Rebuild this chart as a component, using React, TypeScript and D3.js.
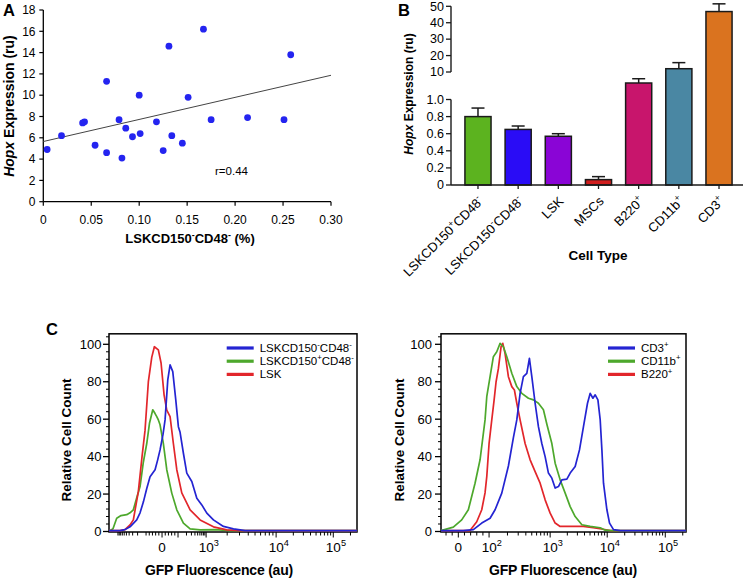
import React from "react";
import * as d3 from "d3";

const FONT = "'Liberation Sans', Arial, Helvetica, sans-serif";

// ---------- Panel A : correlation ----------
const corrX = [0.004, 0.019, 0.041, 0.043, 0.054, 0.066, 0.066, 0.079, 0.082, 0.086, 0.093, 0.100, 0.101, 0.118, 0.125, 0.131, 0.134, 0.145, 0.151, 0.167, 0.175, 0.213, 0.251, 0.258];
const corrY = [4.9, 6.2, 7.4, 7.5, 5.3, 11.3, 4.6, 7.7, 4.1, 6.9, 6.1, 10.0, 6.4, 7.5, 4.8, 14.6, 6.2, 5.5, 9.8, 16.2, 7.7, 7.9, 7.7, 13.8];
const fitX = [0, 0.3];
const fitY = [5.65, 11.87];
const aXTicks = [0, 0.05, 0.1, 0.15, 0.2, 0.25, 0.3];
const aXTickLabels = ["0", "0.05", "0.10", "0.15", "0.20", "0.25", "0.30"];
const aYTicks = [0, 2, 4, 6, 8, 10, 12, 14, 16, 18];
const corrLabel = "r=0.44";

// ---------- Panel B : bars ----------
const cellTypes = ["LSKCD150^+CD48^-", "LSKCD150^-CD48^-", "LSK", "MSCs", "B220^+", "CD11b^+", "CD3^+"];
const hopxMean = [0.80, 0.65, 0.57, 0.063, 6.4, 12.0, 46.8];
const hopxSem = [0.10, 0.04, 0.03, 0.035, 1.4, 3.7, 4.7];
const barColors = ["#5cb31f", "#2a0cf6", "#8a05d6", "#d01d1d", "#c8156c", "#4a87a3", "#da731f"];
const bLowTicks = [0, 0.2, 0.4, 0.6, 0.8, 1.0];
const bLowTickLabels = ["0", "0.2", "0.4", "0.6", "0.8", "1.0"];
const bHighTicks = [10, 20, 30, 40, 50];

// ---------- Panel C : histograms (x in display channels 0-1024, y in % of max) ----------
const lskNegCurve: [number, number][] = [[0, 0], [24.8, 0], [45.5, 0.3], [66.1, 1], [86.8, 2.5], [114.5, 6.2], [128.2, 10], [141.8, 15.7], [155.9, 23], [169.5, 29.3], [190.2, 33], [200.5, 38], [210.8, 43.6], [223.2, 52], [231.5, 59.6], [242.7, 81], [252.2, 89], [263.3, 85.4], [275.7, 70.3], [286.5, 56], [293.5, 53], [307.2, 41.8], [321.2, 31.2], [341.9, 26.7], [362.6, 17.8], [383.2, 14.2], [403.9, 9.8], [431.2, 6.2], [472.5, 2.7], [513.9, 1.4], [562.2, 0.5], [624.2, 0], [1024, 0]];
const lskPosCurve: [number, number][] = [[0, 0], [4.1, 0], [16.5, 1.5], [31.8, 7.1], [49.6, 8.5], [73.2, 9], [86.8, 10], [100.5, 11.6], [114.5, 18], [128.2, 24], [141.8, 37], [155.9, 47], [167.4, 58], [180.7, 65], [190.2, 63], [197.2, 61.4], [203.8, 59.6], [210.8, 57], [224.5, 47], [238.5, 33], [259.2, 20.5], [279.9, 11.6], [307.2, 4.5], [334.9, 1.4], [376.2, 0.9], [438.2, 1.0], [500.2, 0.5], [541.6, 0], [1024, 0]];
const lskCurve: [number, number][] = [[0, 0], [45.5, 0], [66.1, 1], [86.8, 3.5], [100.5, 6.2], [121.1, 21.3], [136.4, 40], [148.8, 54], [162.5, 80], [176.5, 93], [187.3, 98.7], [203.8, 97], [215, 90], [227.4, 73], [238.5, 64.8], [252.2, 61.4], [265.8, 47], [279.9, 33], [300.5, 20.6], [334.9, 11.6], [376.2, 6.2], [431.2, 2.5], [486.6, 0.9], [541.6, 0.3], [583, 0], [1024, 0]];

const cd3Curve: [number, number][] = [[0, 0], [58.6, 0], [93.3, 0.5], [135.2, 1], [170.3, 4.5], [205.1, 7.1], [226, 11.6], [254, 20.5], [281.7, 35], [302.6, 50.2], [316.8, 59.6], [330.6, 73.8], [344.4, 82.7], [358.7, 84.5], [369.5, 92.5], [379.6, 82.7], [393.4, 68.5], [407.2, 56], [421.4, 47], [435.2, 40], [449, 31.2], [463.3, 28.5], [477.1, 23.2], [490.9, 24], [505.1, 27.6], [526, 28], [539.9, 31.2], [560.8, 34.7], [578.8, 43.6], [595.5, 56], [612.3, 68.5], [623.6, 73.8], [634.9, 71.2], [644.5, 73], [655.8, 70.3], [665.4, 59.6], [672.5, 43.6], [679.2, 25.8], [693.4, 11.6], [704.4, 4.5], [721.1, 1], [749.1, 0], [1024, 0]];
const cd11bCurve: [number, number][] = [[0, 0.5], [51.5, 2.3], [86.6, 6.2], [114.3, 11.6], [142.3, 25.8], [163.2, 38.3], [184.1, 59.6], [191.3, 72], [205.1, 82.7], [218.9, 93.4], [233.1, 96], [246.9, 100.5], [260.7, 98.7], [275, 93.4], [295.9, 84.5], [316.8, 77.4], [337.7, 73.8], [365.4, 71.2], [386.3, 70.3], [407.2, 68.5], [428.1, 65], [443, 57], [463.3, 47], [477.1, 36.5], [498, 27.6], [519, 20.5], [539.9, 13.3], [560.8, 8], [588.8, 3.6], [623.6, 2.7], [665.4, 2], [686.3, 0.7], [715.6, 0], [1024, 0]];
const b220Curve: [number, number][] = [[0, 0], [92.1, 0], [121.4, 0.5], [149.4, 5.2], [170.3, 11.6], [184.1, 20.6], [191.3, 29.3], [200.9, 47], [212.2, 59.6], [221.8, 70], [230.2, 80], [239.8, 87], [251.1, 98.7], [258.2, 100.5], [267.8, 95], [281.7, 82.7], [295.9, 77.4], [306.8, 75.6], [316.8, 68.5], [330.6, 59.6], [351.5, 47], [372.5, 38.3], [393.4, 32], [414.3, 25.8], [435.2, 16.9], [456.2, 9.8], [477.1, 4.5], [498, 2.7], [539.9, 2.7], [594.3, 2.7], [636.1, 2], [678, 1.2], [707.3, 0], [1024, 0]];

const leftLegend = ["LSKCD150^-CD48^-", "LSKCD150^+CD48^-", "LSK"];
const rightLegend = ["CD3^+", "CD11b^+", "B220^+"];
const histColors = ["#2424d2", "#4da82c", "#e2262b"];
// channel positions of 0, 10^2, 10^3, 10^4, 10^5
const leftDecadeCh = [219, 285, 401, 690, 926];
const rightDecadeCh = [72.4, 200.9, 456.2, 694.7, 937.4];
const leftTickCh = [219, 401, 690, 926];
const leftTickLabels = ["0", "10^3", "10^4", "10^5"];
const rightTickCh = [72.4, 200.9, 456.2, 694.7, 937.4];
const rightTickLabels = ["0", "10^2", "10^3", "10^4", "10^5"];
const countTicks = [0, 20, 40, 60, 80, 100];

function Rich({ text, size }: { text: string; size: number }) {
  const nodes: any[] = [];
  let shifted = false;
  let buf = "";
  let key = 0;
  const up = size * 0.42;
  const flush = () => {
    if (buf) {
      nodes.push(<tspan key={key++} dy={shifted ? up : undefined}>{buf}</tspan>);
      shifted = false;
      buf = "";
    }
  };
  for (let i = 0; i < text.length; i++) {
    const ch = text[i];
    if (ch === "^" && i + 1 < text.length) {
      flush();
      nodes.push(
        <tspan key={key++} fontSize={size * 0.68} dy={shifted ? 0 : -up}>{text[i + 1]}</tspan>
      );
      shifted = true;
      i++;
    } else buf += ch;
  }
  flush();
  return <>{nodes}</>;
}

function fluorTicks(dec: number[]) {
  const c0 = dec[0];
  const out: { c: number; major: boolean }[] = [];
  dec.forEach((c) => out.push({ c, major: true }));
  for (let k = 1; k <= 4; k++) out.push({ c: c0 + (k / 5) * (dec[1] - c0), major: false });
  for (let i = 1; i < dec.length; i++) {
    const lo = dec[i];
    const hi = i + 1 < dec.length ? dec[i + 1] : dec[i] + (dec[i] - dec[i - 1]);
    for (let k = 2; k <= 9; k++) out.push({ c: lo + Math.log10(k) * (hi - lo), major: false });
  }
  const mirrored = out.filter((p) => p.c > c0 && p.c <= dec[2] + 0.5).map((p) => ({ c: 2 * c0 - p.c, major: false }));
  return [...out, ...mirrored].filter((p) => p.c >= 0 && p.c <= 1024);
}

function Histogram(props: {
  left: number; right: number; curves: [number, number][][]; order: number[];
  legend: string[]; legendX: number; decades: number[]; tickCh: number[]; tickLabels: string[];
  yLabelRight: number; yTitleX: number; xTitleX: number;
}) {
  const { left, right, curves, order, legend, legendX, decades, tickCh, tickLabels, yLabelRight, yTitleX, xTitleX } = props;
  const x = d3.scaleLinear().domain([0, 1024]).range([left, right]);
  const y = d3.scaleLinear().domain([0, 100]).range([531.5, 344.3]);
  const line = d3.line<[number, number]>().x((d) => x(d[0])).y((d) => Math.min(y(d[1]), 530.6)).curve(d3.curveLinear);
  const top = y(105.6);
  const bottom = 532;
  const ticks = fluorTicks(decades);
  const minorY = d3.range(0, 105, 4).filter((v) => v % 20 !== 0);
  return (
    <g>
      {countTicks.map((t) => (
        <g key={"yt" + t}>
          <line x1={left - 6} x2={left} y1={y(t)} y2={y(t)} stroke="#000" strokeWidth={1.3} />
          <text x={yLabelRight} y={y(t) + 4.5} textAnchor="end" fontSize={13}>{t}</text>
        </g>
      ))}
      {minorY.map((t) => (
        <line key={"ym" + t} x1={left - 3} x2={left} y1={y(t)} y2={y(t)} stroke="#000" strokeWidth={1} />
      ))}
      {ticks.map((t, i) => (
        <line key={"xt" + i} x1={x(t.c)} x2={x(t.c)} y1={bottom} y2={bottom + (t.major ? 5.5 : 3.5)} stroke="#000" strokeWidth={1} />
      ))}
      {tickCh.map((c, i) => (
        tickLabels[i] === "0" ? (
          <text key={"xl" + i} x={x(c)} y={551.5} textAnchor="middle" fontSize={13.5}>0</text>
        ) : (
          <text key={"xl" + i} x={x(c) - 7.4} y={551.5} textAnchor="start" fontSize={13.5}>
            <Rich text={tickLabels[i]} size={13.5} />
          </text>
        )
      ))}
      <rect x={left} y={top} width={right - left} height={bottom - top} fill="none" stroke="#000" strokeWidth={1.5} />
      {order.map((k) => (
        <path key={"c" + k} d={line(curves[k]) || ""} fill="none" stroke={histColors[k]} strokeWidth={1.7} strokeLinejoin="round" />
      ))}
      {legend.map((lab, i) => (
        <g key={"lg" + i}>
          <line x1={legendX} x2={legendX + 27} y1={348 + i * 13.2} y2={348 + i * 13.2} stroke={histColors[i]} strokeWidth={3.2} />
          <text x={legendX + 33} y={348 + i * 13.2 + 4} fontSize={11.5}><Rich text={lab} size={11.5} /></text>
        </g>
      ))}
      <text transform={`translate(${yTitleX},440) rotate(-90)`} textAnchor="middle" fontSize={13.5} fontWeight="bold">Relative Cell Count</text>
      <text x={xTitleX} y={575} textAnchor="middle" fontSize={14} fontWeight="bold" letterSpacing={-0.2}>GFP Fluorescence (au)</text>
    </g>
  );
}

export default function App() {
  // Panel A scales
  const ax = d3.scaleLinear().domain([0, 0.3]).range([43.3, 331]);
  const ay = d3.scaleLinear().domain([0, 18]).range([201.7, 10]);
  const fitLine = d3.line<number>().x((_, i) => ax(fitX[i])).y((d) => ay(d));

  // Panel B scales (broken axis)
  const by = d3.scaleLinear().domain([0, 1, 10, 50]).range([185, 99.5, 72, 6.3]);
  const bx = d3.scaleBand<number>().domain(d3.range(cellTypes.length)).range([457.9, 739.1]).paddingInner(0.35).paddingOuter(0.175);
  const bw = bx.bandwidth();

  return (
    <svg width={747} height={581} style={{ position: "absolute", left: 0, top: 0, background: "#fff" }} fontFamily={FONT}>
      <rect x={0} y={0} width={747} height={581} fill="#fff" />
      {/* ---------- Panel A ---------- */}
      <text x={3} y={16} fontSize={16.5} fontWeight="bold">A</text>
      <line x1={ax(0)} x2={ax(0)} y1={ay(18)} y2={ay(0)} stroke="#000" strokeWidth={1.3} />
      <line x1={ax(0)} x2={ax(0.3)} y1={ay(0)} y2={ay(0)} stroke="#000" strokeWidth={1.3} />
      {aYTicks.map((t) => (
        <g key={"ay" + t}>
          <line x1={ax(0) - 4} x2={ax(0)} y1={ay(t)} y2={ay(t)} stroke="#000" strokeWidth={1.2} />
          <text x={35.5} y={ay(t) + 4.2} textAnchor="end" fontSize={12}>{t}</text>
        </g>
      ))}
      {aXTicks.map((t, i) => (
        <g key={"ax" + t}>
          <line x1={ax(t)} x2={ax(t)} y1={ay(0)} y2={ay(0) + 4} stroke="#000" strokeWidth={1.2} />
          <text x={ax(t)} y={224} textAnchor="middle" fontSize={12}>{aXTickLabels[i]}</text>
        </g>
      ))}
      <path d={fitLine(fitY) || ""} stroke="#444" strokeWidth={1} fill="none" />
      {corrX.map((v, i) => (
        <circle key={"pt" + i} cx={ax(v)} cy={ay(corrY[i])} r={3.4} fill="#2424f0" />
      ))}
      <text x={215} y={175} fontSize={11.5}>{corrLabel}</text>
      <text transform="translate(14,106) rotate(-90)" textAnchor="middle" fontSize={14} fontWeight="bold">
        <tspan fontStyle="italic">Hopx</tspan> Expression (ru)
      </text>
      <text x={190} y={243} textAnchor="middle" fontSize={13} fontWeight="bold">
        <Rich text="LSKCD150^-CD48^- (%)" size={13} />
      </text>

      {/* ---------- Panel B ---------- */}
      <text x={398} y={16} fontSize={16.5} fontWeight="bold">B</text>
      {hopxMean.map((m, i) => {
        const x0 = bx(i) as number;
        const cx = x0 + bw / 2;
        const yTop = by(m);
        const yErr = by(m + hopxSem[i]);
        return (
          <g key={"bar" + i}>
            <line x1={cx} x2={cx} y1={yTop} y2={yErr} stroke="#1a1a1a" strokeWidth={1.5} />
            <line x1={cx - 6.5} x2={cx + 6.5} y1={yErr} y2={yErr} stroke="#1a1a1a" strokeWidth={1.5} />
            <rect x={x0} y={yTop} width={bw} height={by(0) - yTop} fill={barColors[i]} stroke="#1a1a1a" strokeWidth={1.5} />
            <line x1={cx} x2={cx} y1={by(0)} y2={by(0) + 4} stroke="#1a1a1a" strokeWidth={1.3} />
            <text transform={`translate(${cx + 6},${202}) rotate(-45)`} textAnchor="end" fontSize={13}>
              <Rich text={cellTypes[i]} size={13} />
            </text>
          </g>
        );
      })}
      <line x1={451} x2={451} y1={by(50)} y2={by(10)} stroke="#1a1a1a" strokeWidth={1.4} />
      <line x1={451} x2={451} y1={by(1)} y2={by(0)} stroke="#1a1a1a" strokeWidth={1.4} />
      <line x1={451} x2={743} y1={by(0)} y2={by(0)} stroke="#1a1a1a" strokeWidth={1.4} />
      {bHighTicks.map((t) => (
        <g key={"bh" + t}>
          <line x1={446} x2={451} y1={by(t)} y2={by(t)} stroke="#1a1a1a" strokeWidth={1.3} />
          <text x={444} y={by(t) + 4.2} textAnchor="end" fontSize={12.5}>{t}</text>
        </g>
      ))}
      {bLowTicks.map((t, i) => (
        <g key={"bl" + t}>
          <line x1={446} x2={451} y1={by(t)} y2={by(t)} stroke="#1a1a1a" strokeWidth={1.3} />
          <text x={444} y={by(t) + 4.2} textAnchor="end" fontSize={12.5}>{bLowTickLabels[i]}</text>
        </g>
      ))}
      <text transform="translate(413,94) rotate(-90)" textAnchor="middle" fontSize={12} fontWeight="bold">
        <tspan fontStyle="italic">Hopx</tspan> Expression (ru)
      </text>
      <text x={598} y={260} textAnchor="middle" fontSize={13.5} fontWeight="bold">Cell Type</text>

      {/* ---------- Panel C ---------- */}
      <text x={46} y={335} fontSize={16.5} fontWeight="bold">C</text>
      <Histogram left={109} right={357} curves={[lskNegCurve, lskPosCurve, lskCurve]} order={[1, 2, 0]}
        legend={leftLegend} legendX={226.7} decades={leftDecadeCh} tickCh={leftTickCh} tickLabels={leftTickLabels}
        yLabelRight={101.5} yTitleX={70.5} xTitleX={219} />
      <Histogram left={441} right={686} curves={[cd3Curve, cd11bCurve, b220Curve]} order={[2, 1, 0]}
        legend={rightLegend} legendX={608} decades={rightDecadeCh} tickCh={rightTickCh} tickLabels={rightTickLabels}
        yLabelRight={432} yTitleX={404} xTitleX={563} />
    </svg>
  );
}
